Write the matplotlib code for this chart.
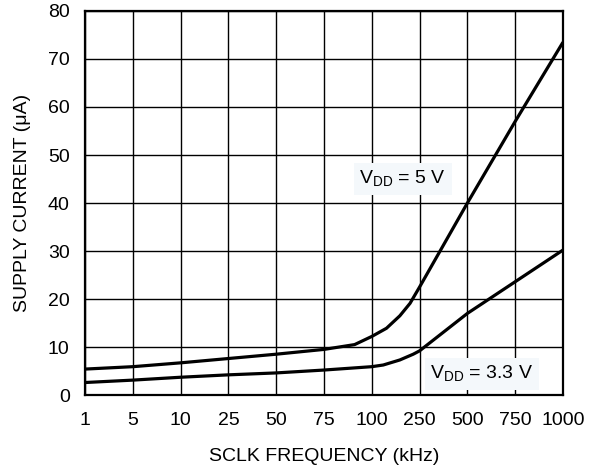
import numpy as np
import matplotlib
matplotlib.use('Agg')
import matplotlib.pyplot as plt

plt.rcParams['font.family'] = ['Liberation Sans', 'DejaVu Sans']

# tick frequencies (kHz), equally spaced on the chart
tick_freq = [1, 5, 10, 25, 50, 75, 100, 250, 500, 750, 1000]
y_ticks = [0, 10, 20, 30, 40, 50, 60, 70, 80]

# VDD = 5 V
f5 = [1, 5, 10, 25, 50, 75, 91, 100, 146, 188, 220, 250, 500, 750, 1000]
i5 = [5.4, 5.9, 6.7, 7.6, 8.5, 9.5, 10.5, 12.2, 13.9, 16.5, 19.1, 22.5, 40, 57, 73.5]

# VDD = 3.3 V
f33 = [1, 5, 10, 25, 50, 75, 100, 136, 188, 230, 250, 500, 750, 1000]
i33 = [2.6, 3.1, 3.7, 4.2, 4.6, 5.2, 5.9, 6.25, 7.3, 8.5, 9.2, 17.0, 23.6, 30.2]

idx = np.arange(len(tick_freq))


def fwd(x):
    return np.interp(x, tick_freq, idx)


def inv(x):
    return np.interp(x, idx, tick_freq)


fig = plt.figure(figsize=(6.04, 4.72), dpi=100)
ax = fig.add_axes([85/604, 1-395/472, 478/604, 384/472])
ax.set_xscale('function', functions=(fwd, inv))

ax.plot(f5, i5, color='black', lw=2.3, solid_capstyle='butt')
ax.plot(f33, i33, color='black', lw=2.3, solid_capstyle='butt')

ax.set_xlim(1, 1000)
ax.set_ylim(0, 80)
ax.set_xticks(tick_freq)
ax.set_xticklabels([str(t) for t in tick_freq])
ax.xaxis.set_minor_locator(matplotlib.ticker.NullLocator())
ax.set_yticks(y_ticks)
ax.grid(True, color='black', lw=1.0)
ax.tick_params(length=0, labelsize=14)
ax.tick_params(axis='x', pad=12)
ax.tick_params(axis='y', pad=11)
for s in ax.spines.values():
    s.set_linewidth(1.6)

ax.set_xlabel('SCLK FREQUENCY (kHz)', fontsize=14, labelpad=14)
ax.set_ylabel('SUPPLY CURRENT (\u03bcA)', fontsize=14, labelpad=12)

box = dict(facecolor='#f4f8fb', edgecolor='none', pad=4)
ax.text(0.665, 0.5625, r'V$_{\mathregular{DD}}$ = 5 V', transform=ax.transAxes,
        ha='center', va='center', fontsize=14, bbox=box)
ax.text(0.83, 0.055, r'V$_{\mathregular{DD}}$ = 3.3 V', transform=ax.transAxes,
        ha='center', va='center', fontsize=14, bbox=box)

fig.savefig('out.png', dpi=100)
